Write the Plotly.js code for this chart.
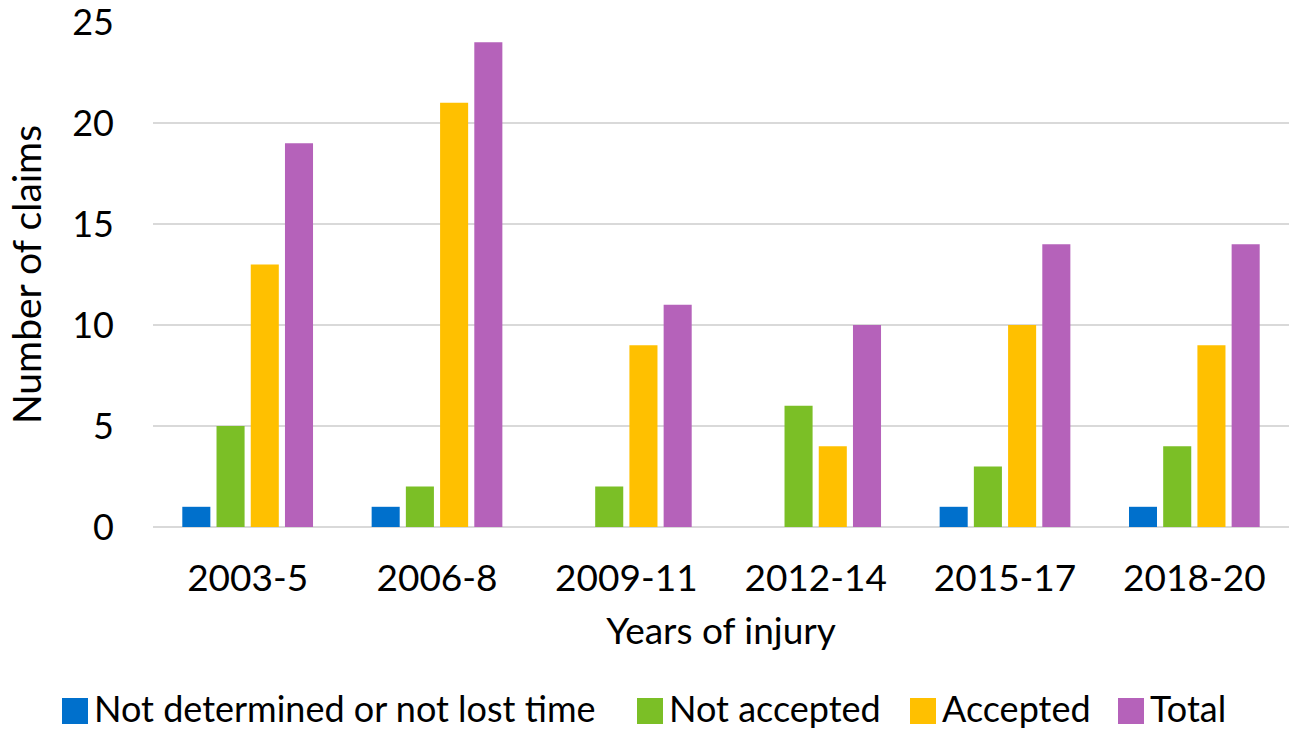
<!DOCTYPE html>
<html>
<head>
<meta charset="utf-8">
<script src="https://cdn.plot.ly/plotly-3.0.1.min.js"></script>
<style>html,body{margin:0;padding:0;background:#fff;}#chart{width:1289px;height:732px;}</style>
</head>
<body>
<div id="chart"></div>
<script>
var categories = ["2003-5", "2006-8", "2009-11", "2012-14", "2015-17", "2018-20"];
var seriesNames = ["Not determined or not lost time", "Not accepted", "Accepted", "Total"];
var notDetermined = [1, 1, 0, 0, 1, 1];
var notAccepted = [5, 2, 2, 6, 3, 4];
var accepted = [13, 21, 9, 4, 10, 9];
var total = [19, 24, 11, 10, 14, 14];
var yTicks = [0, 5, 10, 15, 20, 25];

var seriesValues = [notDetermined, notAccepted, accepted, total];
var colors = ["#0070CC", "#7BBF26", "#FFC000", "#B562BA"];
var FONT = "Lato, 'Open Sans', sans-serif";

var plotLeft = 153, plotRight = 1289, plotTop = 22, plotBottom = 527;
var W = 1289, H = 732;
function px2paperX(px) { return (px - plotLeft) / (plotRight - plotLeft); }
function px2paperY(py) { return (plotBottom - py) / (plotBottom - plotTop); }

var traces = seriesValues.map(function (vals, i) {
  return {
    type: "bar",
    name: seriesNames[i],
    x: categories,
    y: vals,
    marker: { color: colors[i], line: { width: 0 } },
    showlegend: false,
    hoverinfo: "x+y+name"
  };
});

// manual legend (large square swatches)
var legendX = [62, 637, 910, 1118];
var legendY = 711;
var sw = 26;
var shapes = [];
var annotations = [];
seriesNames.forEach(function (n, i) {
  shapes.push({
    type: "rect", xref: "paper", yref: "paper",
    x0: px2paperX(legendX[i]), x1: px2paperX(legendX[i] + sw),
    y0: px2paperY(legendY + sw / 2), y1: px2paperY(legendY - sw / 2),
    fillcolor: colors[i], line: { width: 0 }
  });
  annotations.push({
    xref: "paper", yref: "paper",
    x: px2paperX(legendX[i] + sw + 5), y: px2paperY(708),
    xanchor: "left", yanchor: "middle", showarrow: false, borderpad: 0,
    text: n, font: { family: FONT, size: 36, color: "#000" }
  });
});

var layout = {
  width: W, height: H,
  margin: { l: plotLeft, r: W - plotRight, t: plotTop, b: H - plotBottom, pad: 0 },
  paper_bgcolor: "#fff", plot_bgcolor: "#fff",
  barmode: "group",
  bargap: 0.277,
  bargroupgap: 0.18,
  font: { family: FONT, color: "#000" },
  xaxis: {
    type: "category",
    range: [-0.5, 5.5],
    showgrid: false, showline: false, zeroline: false,
    ticks: "", ticklabelstandoff: 26,
    tickfont: { family: FONT, size: 37, color: "#000" },
    title: { text: "Years of injury", font: { family: FONT, size: 37, color: "#000" }, standoff: 20 }
  },
  yaxis: {
    range: [0, 25],
    tickvals: yTicks,
    ticklabeloverflow: "allow",
    showgrid: true, gridcolor: "#d9d9d9", gridwidth: 2,
    zeroline: true, zerolinecolor: "#d9d9d9", zerolinewidth: 2,
    showline: false, ticks: "", ticklabelstandoff: 38,
    tickfont: { family: FONT, size: 36, color: "#000" },
    title: { text: "Number of claims", font: { family: FONT, size: 39, color: "#000" }, standoff: 18 }
  },
  shapes: shapes,
  annotations: annotations
};

Plotly.newPlot("chart", traces, layout, { displayModeBar: false, staticPlot: true });
</script>
</body>
</html>
